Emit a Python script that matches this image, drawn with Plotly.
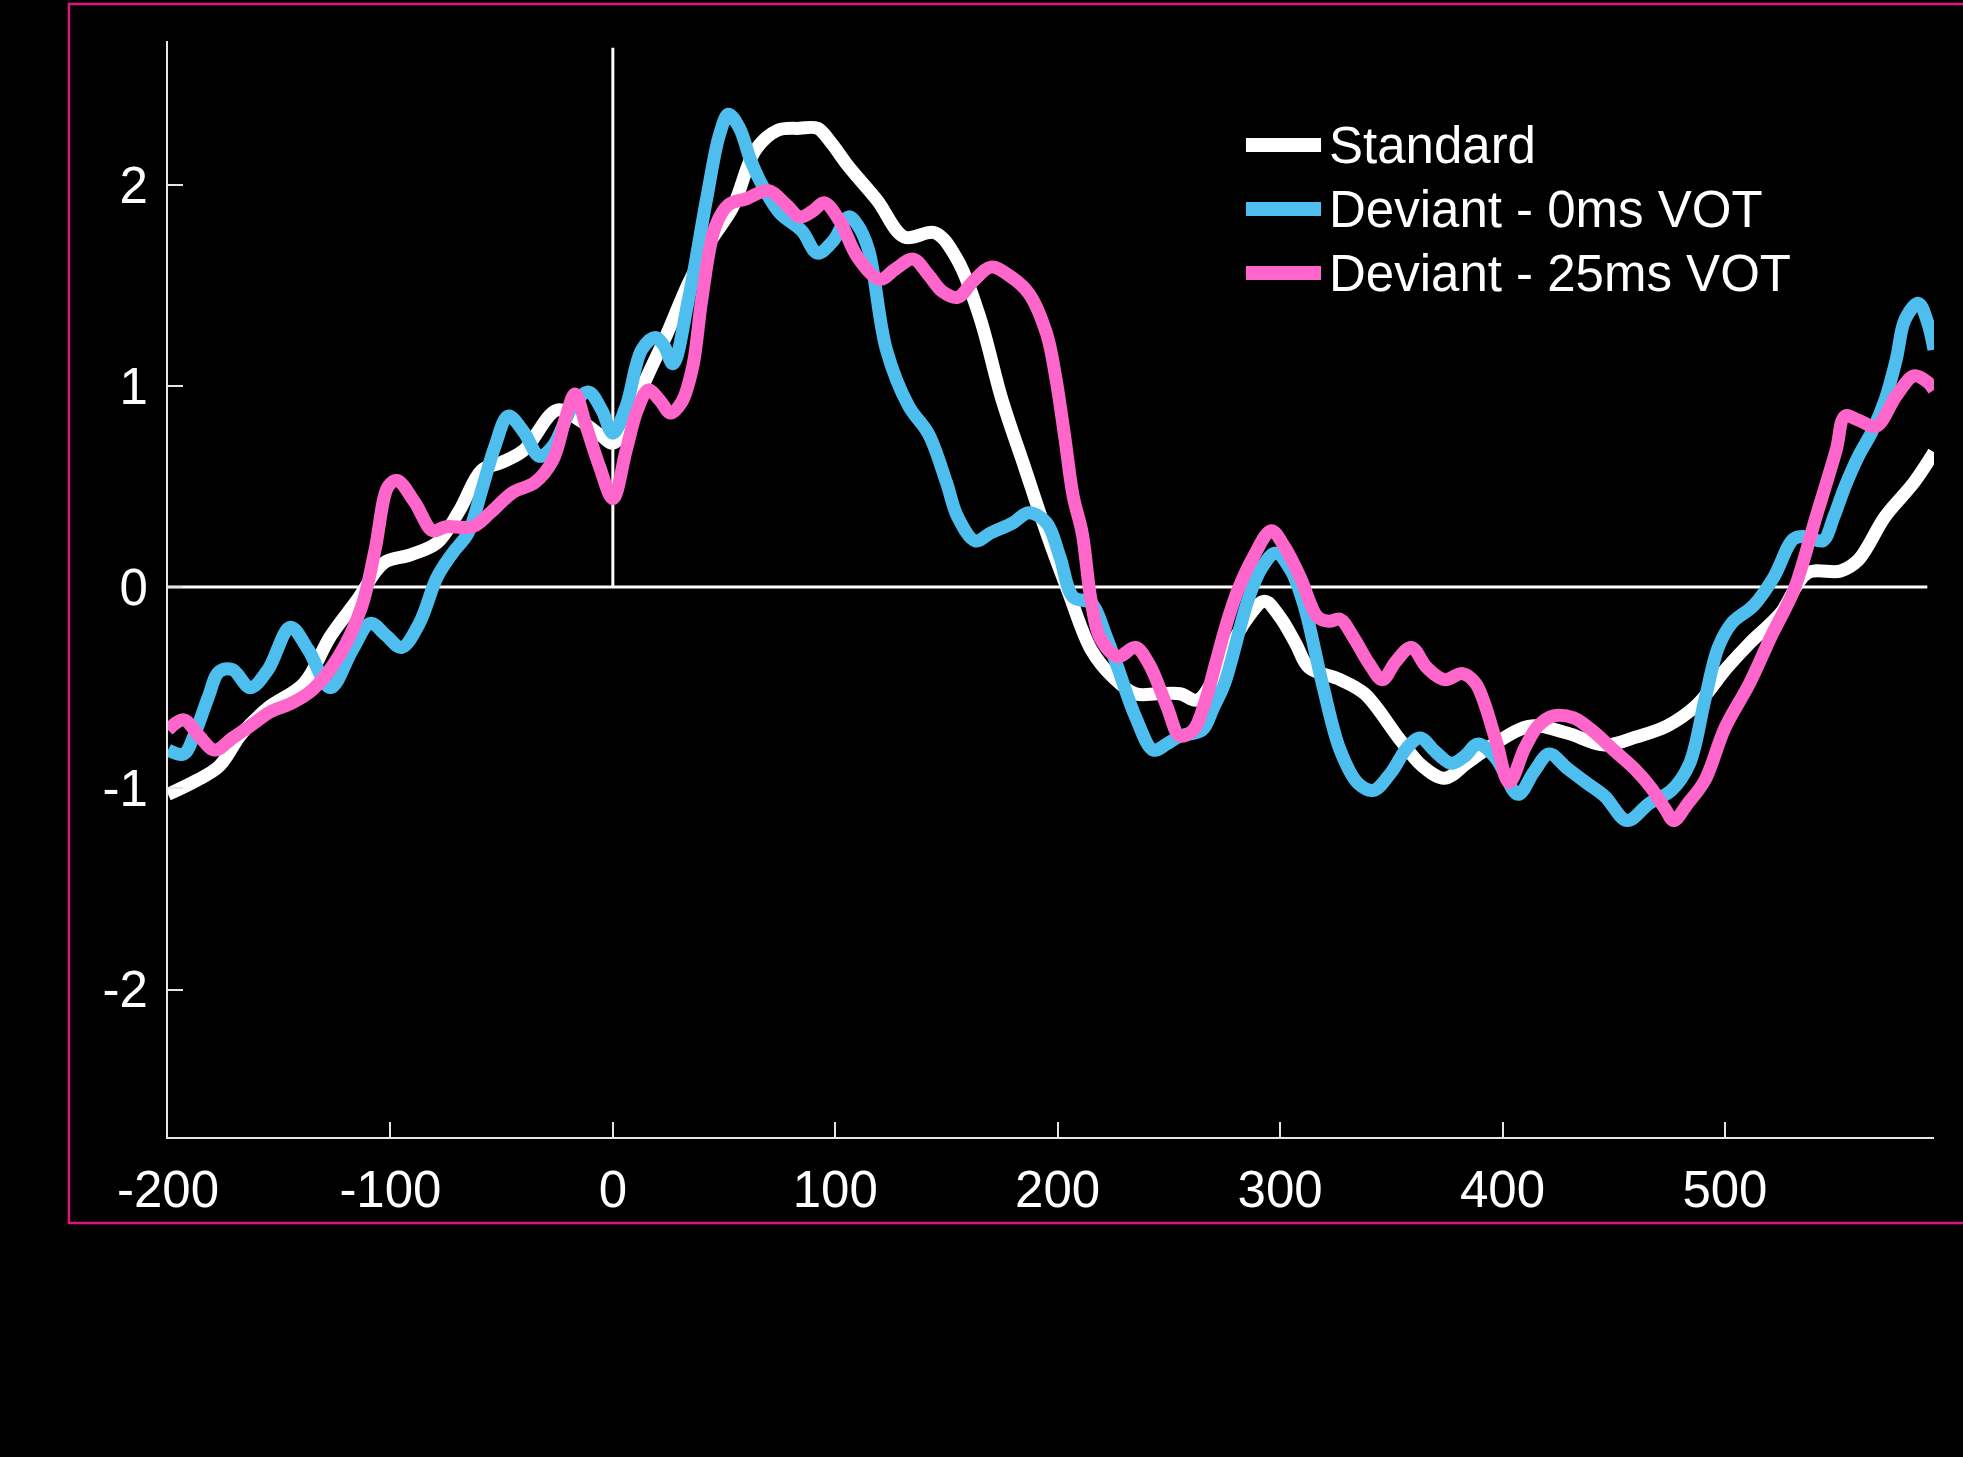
import plotly.graph_objects as go

# ---------------- data (ms, µV) ----------------
std_t = [-200, -187, -177, -167, -155, -139, -127, -115, -103, -91, -79, -69, -59, -50, -40, -25, -15, -5, 0, 7, 14, 24, 34, 44, 54,
         64, 74, 84, 92, 98, 106, 119, 131, 145, 155, 165, 175, 185, 195, 205, 215, 225, 235, 245, 255, 263, 275, 285, 293,
         300, 307, 313, 327, 338, 354, 364, 374, 384, 399, 413, 429, 446, 460, 474, 487, 501, 511, 525, 537, 552, 560, 572,
         585, 594]
std_v = [-1.03, -0.96, -0.89, -0.73, -0.60, -0.48, -0.245, -0.065, 0.12, 0.16, 0.22, 0.38, 0.58, 0.62, 0.68, 0.88, 0.83, 0.75,
         0.715, 0.80, 1.01, 1.25, 1.51, 1.72, 1.89, 2.17, 2.27, 2.28, 2.28, 2.21, 2.09, 1.92, 1.74, 1.76, 1.625, 1.34, 0.93,
         0.60, 0.27, -0.03, -0.31, -0.45, -0.53, -0.53, -0.53, -0.56, -0.35, -0.16, -0.07, -0.15, -0.28, -0.40, -0.46, -0.53,
         -0.76, -0.89, -0.95, -0.875, -0.76, -0.69, -0.725, -0.785, -0.745, -0.69, -0.59, -0.40, -0.28, -0.13, 0.07, 0.08,
         0.135, 0.35, 0.52, 0.67]

dev0_t = [-200, -193, -188, -182, -177, -171, -163, -155, -145, -137, -127, -117, -109, -102, -95, -87, -79, -72, -65, -59,
          -53, -47, -40, -33, -27, -18, -11, -5, 0, 6, 13, 19, 23, 27, 34, 42, 48, 52, 57, 62, 68, 75, 85, 92, 99, 106, 110,
          115, 123, 133, 142, 150, 155, 163, 170, 180, 187, 195, 201, 207, 215, 222, 227, 235, 243, 249, 255, 265, 270, 275,
          286, 292, 298, 305, 311, 319, 327, 335, 342, 350, 357, 363, 370, 377, 383, 389, 397, 407, 414, 421, 429, 438, 446,
          456, 466, 476, 484, 491, 497, 503, 513, 522, 531, 537, 544, 549, 554, 560, 566, 572, 577, 581, 587, 591, 594]
dev0_v = [-0.81, -0.83, -0.73, -0.55, -0.42, -0.41, -0.50, -0.41, -0.20, -0.31, -0.50, -0.31, -0.18, -0.24, -0.30, -0.18,
          0.05, 0.17, 0.27, 0.48, 0.70, 0.85, 0.77, 0.65, 0.70, 0.90, 0.97, 0.88, 0.765, 0.90, 1.18, 1.24, 1.20, 1.11, 1.43,
          1.92, 2.25, 2.35, 2.28, 2.12, 1.98, 1.86, 1.77, 1.66, 1.72, 1.84, 1.80, 1.675, 1.18, 0.90, 0.76, 0.52, 0.35, 0.23,
          0.27, 0.32, 0.37, 0.32, 0.15, -0.05, -0.08, -0.25, -0.40, -0.645, -0.81, -0.78, -0.74, -0.71, -0.60, -0.48, -0.05,
          0.10, 0.17, 0.08, -0.10, -0.48, -0.81, -0.975, -1.01, -0.92, -0.80, -0.75, -0.82, -0.876, -0.84, -0.78, -0.85,
          -1.03, -0.92, -0.83, -0.90, -0.975, -1.04, -1.16, -1.075, -1.01, -0.88, -0.56, -0.30, -0.18, -0.09, 0.05, 0.24,
          0.25, 0.23, 0.35, 0.50, 0.65, 0.77, 0.93, 1.13, 1.33, 1.41, 1.32, 1.18]

dev25_t = [-200, -193, -186, -179, -171, -163, -154, -145, -135, -123, -113, -107, -101, -97, -89, -81, -75, -63, -55, -45,
           -35, -27, -21, -17, -12, -6, 0, 6, 11, 16, 21, 26, 31, 36, 40, 46, 52, 60, 70, 78, 84, 90, 95, 102, 110, 120, 127,
           135, 142, 148, 155, 162, 170, 178, 187, 195, 199, 203, 207, 211, 215, 219, 227, 235, 241, 249, 255, 261, 266, 271,
           276, 281, 288, 296, 302, 309, 317, 322, 327, 333, 340, 346, 352, 359, 366, 374, 382, 388, 397, 403, 410, 416, 423,
           432, 440, 450, 460, 467, 473, 477, 483, 491, 500, 511, 521, 531, 541, 550, 554, 560, 568, 577, 585, 591, 594]
dev25_v = [-0.71, -0.66, -0.74, -0.81, -0.75, -0.69, -0.62, -0.58, -0.51, -0.34, -0.10, 0.18, 0.50, 0.53, 0.42, 0.28, 0.30,
           0.30, 0.37, 0.47, 0.52, 0.63, 0.85, 0.96, 0.80, 0.60, 0.44, 0.68, 0.88, 0.98, 0.93, 0.865, 0.92, 1.10, 1.43, 1.79,
           1.90, 1.93, 1.97, 1.90, 1.84, 1.87, 1.91, 1.82, 1.64, 1.53, 1.58, 1.63, 1.55, 1.47, 1.44, 1.52, 1.59, 1.55, 1.46,
           1.26, 1.05, 0.76, 0.45, 0.27, -0.065, -0.25, -0.345, -0.30, -0.38, -0.59, -0.74, -0.71, -0.58, -0.38, -0.18,
           -0.015, 0.15, 0.28, 0.20, 0.05, -0.15, -0.17, -0.16, -0.25, -0.38, -0.46, -0.37, -0.30, -0.40, -0.46, -0.43,
           -0.48, -0.76, -0.97, -0.80, -0.69, -0.64, -0.65, -0.71, -0.81, -0.91, -1.00, -1.10, -1.16, -1.08, -0.96, -0.70,
           -0.48, -0.24, -0.015, 0.35, 0.68, 0.85, 0.83, 0.80, 0.95, 1.05, 1.02, 0.98]

series_names = ["Standard", "Deviant - 0ms VOT", "Deviant - 25ms VOT"]
series_colors = ["#FFFFFF", "#4DBEEE", "#FF66CC"]

x_tick_vals = [-200, -100, 0, 100, 200, 300, 400, 500]
x_tick_text = ["-200", "-100", "0", "100", "200", "300", "400", "500"]
y_tick_vals = [-2, -1, 0, 1, 2]
y_tick_text = ["-2", "-1", "0", "1", "2"]

x_range = [-200, 594]
y_range = [-2.733, 2.714]
onset_top = 2.68
baseline_end = 591

# ---------------- figure ----------------
FONT = "Liberation Sans, Arial, Helvetica, sans-serif"
fig = go.Figure()

for t, v, name, col in zip([std_t, dev0_t, dev25_t], [std_v, dev0_v, dev25_v], series_names, series_colors):
    fig.add_trace(go.Scatter(x=t, y=v, mode="lines", name=name, showlegend=False,
                             line=dict(color=col, width=13, shape="spline", smoothing=1.0)))

# reference lines (baseline and stimulus onset)
fig.add_shape(type="line", xref="x", yref="y", x0=x_range[0], x1=baseline_end, y0=0, y1=0,
              line=dict(color="#FFFFFF", width=3), layer="below")
fig.add_shape(type="line", xref="x", yref="y", x0=0, x1=0, y0=0, y1=onset_top,
              line=dict(color="#FFFFFF", width=3), layer="below")

# magenta frame
fig.add_shape(type="rect", xref="paper", yref="paper", x0=-0.0561, x1=1.03, y0=-0.0785, y1=1.0338,
              line=dict(color="#E0147F", width=2.5), fillcolor="rgba(0,0,0,0)")

# custom legend
leg_y = [0.9051, 0.8467, 0.7883]
for name, col, yy in zip(series_names, series_colors, leg_y):
    fig.add_shape(type="line", xref="paper", yref="paper", x0=0.6104, x1=0.6529, y0=yy, y1=yy,
                  line=dict(color=col, width=14))
    fig.add_annotation(xref="paper", yref="paper", x=0.6562, y=yy, text=name, showarrow=False,
                       xanchor="left", yanchor="middle", font=dict(family=FONT, size=51, color="#FFFFFF"))

axis_common = dict(showgrid=False, zeroline=False, showline=True, linecolor="#E6E6E6", linewidth=2,
                   ticks="inside", ticklen=15, tickwidth=2, tickcolor="#E6E6E6",
                   tickfont=dict(family=FONT, size=51, color="#FFFFFF"))

fig.update_layout(
    width=1963, height=1457,
    paper_bgcolor="#000000", plot_bgcolor="#000000",
    margin=dict(l=168, r=29, t=41, b=320),
    xaxis=dict(range=x_range, tickvals=x_tick_vals, ticktext=x_tick_text, ticklabelstandoff=7, **axis_common),
    yaxis=dict(range=y_range, tickvals=y_tick_vals, ticktext=y_tick_text, ticklabelstandoff=8, **axis_common),
    showlegend=False,
)

fig.write_html("out.html", config={"displayModeBar": False},
               post_script="document.body.style.margin='0px';document.body.style.background='#000';")
